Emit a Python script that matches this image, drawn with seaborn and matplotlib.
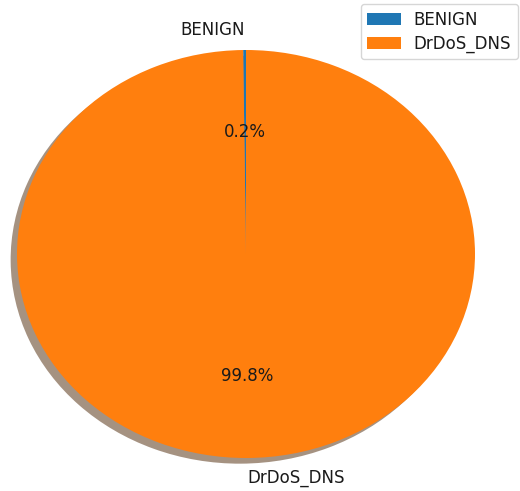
import matplotlib
matplotlib.use("Agg")
import matplotlib.pyplot as plt
import seaborn as sns

labels = ["BENIGN", "DrDoS_DNS"]
shares = [0.2, 99.8]

sns.set_style("white")
plt.rcParams['font.family'] = ['DejaVu Sans']
plt.rcParams['text.color'] = '#1a1a1a'
colors = sns.color_palette("tab10", 2)

fig = plt.figure(figsize=(5.20, 4.91), dpi=100)
W, H = 520, 491
# pie spans x 17..475, y 50..458 (pixels from top) for radius 1
cx, cy = 246, 254
rx, ry = 229, 204
lim = 1.25
ax = fig.add_axes([(cx - rx * lim) / W, (H - cy - ry * lim) / H,
                   2 * rx * lim / W, 2 * ry * lim / H])
ax.pie(shares, labels=labels, colors=colors, autopct='%1.1f%%', shadow=True,
       startangle=90, textprops={'fontsize': 12},
       wedgeprops={'linewidth': 0, 'edgecolor': 'none'})
ax.set_aspect('auto')
ax.set_xlim(-lim, lim)
ax.set_ylim(-lim, lim)
fig.legend(labels, loc='upper right', bbox_to_anchor=(518 / W, 1 - 4 / H),
           borderaxespad=0, fontsize=12, labelspacing=0.35, frameon=True)
fig.savefig("out.png", dpi=100)
